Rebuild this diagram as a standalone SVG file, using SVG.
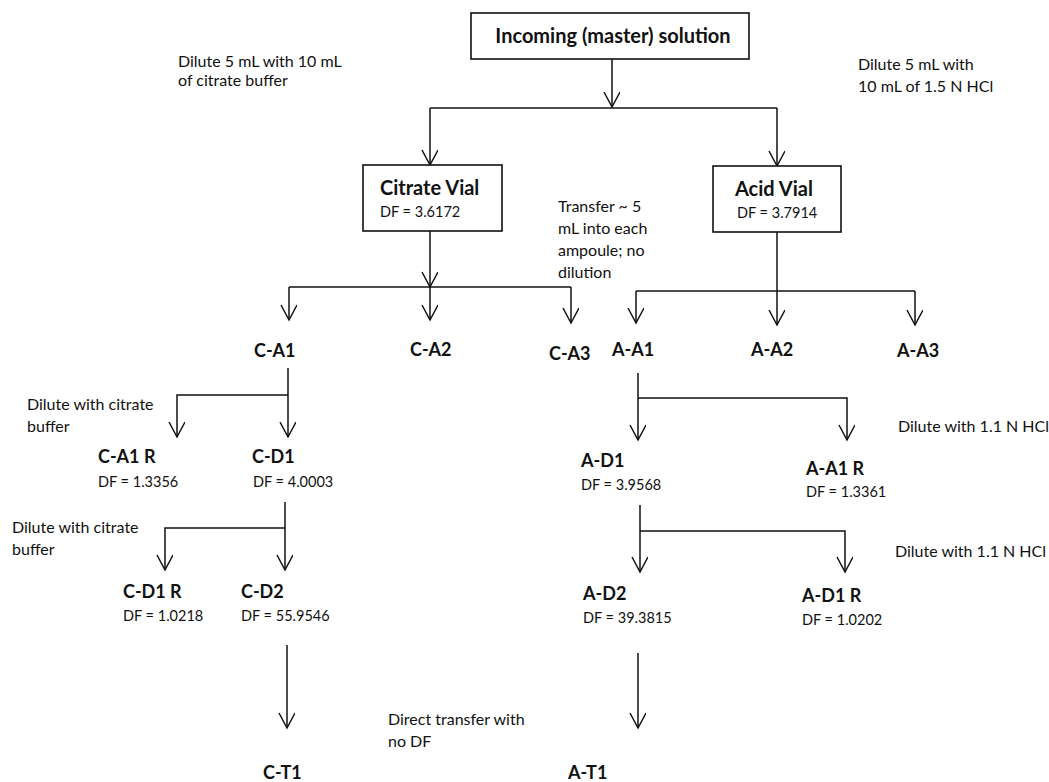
<svg xmlns="http://www.w3.org/2000/svg" width="1049" height="782" viewBox="0 0 1049 782">
<style>
.t{font-family:Lato,"Open Sans","Liberation Sans",sans-serif;fill:#111}
.b{font-weight:bold;font-size:18px}
.h{font-weight:bold;font-size:20px}
.n{font-size:14.5px}
.s{font-size:16px}
.box{fill:#fff;stroke:#111;stroke-width:1.6}
.c{fill:none;stroke:#111;stroke-width:1.5}
</style>
<defs>
<marker id="ah" markerUnits="userSpaceOnUse" markerWidth="20" markerHeight="20" refX="16" refY="8" orient="auto" viewBox="0 0 20 20">
<path d="M1 0 L16 8 L1 16" fill="none" stroke="#111" stroke-width="1.5"/>
</marker>
</defs>
<rect width="1049" height="782" fill="#fff"/>
<g id="connectors">
<path class="c" d="M612 59 V107" marker-end="url(#ah)"/>
<path class="c" d="M430 108 H777"/>
<path class="c" d="M430 108 V165" marker-end="url(#ah)"/>
<path class="c" d="M777 108 V166" marker-end="url(#ah)"/>
<path class="c" d="M430 231 V287" marker-end="url(#ah)"/>
<path class="c" d="M289 287 H571"/>
<path class="c" d="M289 287 V320" marker-end="url(#ah)"/>
<path class="c" d="M430 287 V320" marker-end="url(#ah)"/>
<path class="c" d="M571 287 V323" marker-end="url(#ah)"/>
<path class="c" d="M777 232 V325" marker-end="url(#ah)"/>
<path class="c" d="M636 291 H915"/>
<path class="c" d="M636 291 V323" marker-end="url(#ah)"/>
<path class="c" d="M915 291 V325" marker-end="url(#ah)"/>
<path class="c" d="M288 368 V437" marker-end="url(#ah)"/>
<path class="c" d="M288 395 H177 V437" marker-end="url(#ah)"/>
<path class="c" d="M285 502 V570" marker-end="url(#ah)"/>
<path class="c" d="M285 528 H165 V570" marker-end="url(#ah)"/>
<path class="c" d="M287 645 V728" marker-end="url(#ah)"/>
<path class="c" d="M638 373 V440" marker-end="url(#ah)"/>
<path class="c" d="M638 398 H847 V440" marker-end="url(#ah)"/>
<path class="c" d="M640 505 V572" marker-end="url(#ah)"/>
<path class="c" d="M640 531 H845 V572" marker-end="url(#ah)"/>
<path class="c" d="M638 653 V728" marker-end="url(#ah)"/>
</g>
<g id="master">
<rect class="box" x="471" y="13" width="278" height="46"/>
<text class="t h" x="613" y="43" text-anchor="middle">Incoming (master) solution</text>
</g>
<g id="note-citrate">
<text class="t s" x="178" y="67">Dilute 5 mL with 10 mL</text>
<text class="t s" x="178" y="86">of citrate buffer</text>
</g>
<g id="note-acid">
<text class="t s" x="858" y="70">Dilute 5 mL with</text>
<text class="t s" x="858" y="92">10 mL of 1.5 N HCl</text>
</g>
<g id="citrate-vial">
<rect class="box" x="363" y="165" width="139" height="66"/>
<text class="t h" x="380" y="195">Citrate Vial</text>
<text class="t n" x="380" y="217">DF = 3.6172</text>
</g>
<g id="acid-vial">
<rect class="box" x="713" y="166" width="128" height="66"/>
<text class="t h" x="735" y="196">Acid Vial</text>
<text class="t n" x="737" y="218">DF = 3.7914</text>
</g>
<g id="note-transfer">
<text class="t s" x="558" y="212">Transfer ~ 5</text>
<text class="t s" x="558" y="234">mL into each</text>
<text class="t s" x="558" y="256">ampoule; no</text>
<text class="t s" x="558" y="278">dilution</text>
</g>
<g id="C-A1"><text class="t b" x="254" y="357">C-A1</text></g>
<g id="C-A2"><text class="t b" x="410" y="356">C-A2</text></g>
<g id="C-A3"><text class="t b" x="549" y="360">C-A3</text></g>
<g id="A-A1"><text class="t b" x="612" y="356">A-A1</text></g>
<g id="A-A2"><text class="t b" x="751" y="356">A-A2</text></g>
<g id="A-A3"><text class="t b" x="897" y="357">A-A3</text></g>
<g id="note-c1">
<text class="t s" x="27" y="410">Dilute with citrate</text>
<text class="t s" x="27" y="432">buffer</text>
</g>
<g id="C-A1R">
<text class="t b" x="98" y="463">C-A1 R</text>
<text class="t n" x="98" y="487">DF = 1.3356</text>
</g>
<g id="C-D1">
<text class="t b" x="252" y="463">C-D1</text>
<text class="t n" x="253" y="487">DF = 4.0003</text>
</g>
<g id="note-c2">
<text class="t s" x="12" y="533">Dilute with citrate</text>
<text class="t s" x="12" y="555">buffer</text>
</g>
<g id="C-D1R">
<text class="t b" x="123" y="598">C-D1 R</text>
<text class="t n" x="123" y="621">DF = 1.0218</text>
</g>
<g id="C-D2">
<text class="t b" x="241" y="598">C-D2</text>
<text class="t n" x="241" y="621">DF = 55.9546</text>
</g>
<g id="C-T1"><text class="t b" x="263" y="779">C-T1</text></g>
<g id="note-a1"><text class="t s" x="898" y="432">Dilute with 1.1 N HCl</text></g>
<g id="A-D1">
<text class="t b" x="581" y="467">A-D1</text>
<text class="t n" x="581" y="490">DF = 3.9568</text>
</g>
<g id="A-A1R">
<text class="t b" x="806" y="475">A-A1 R</text>
<text class="t n" x="806" y="497">DF = 1.3361</text>
</g>
<g id="note-a2"><text class="t s" x="895" y="557">Dilute with 1.1 N HCl</text></g>
<g id="A-D2">
<text class="t b" x="583" y="600">A-D2</text>
<text class="t n" x="583" y="623">DF = 39.3815</text>
</g>
<g id="A-D1R">
<text class="t b" x="802" y="602">A-D1 R</text>
<text class="t n" x="802" y="625">DF = 1.0202</text>
</g>
<g id="note-direct">
<text class="t s" x="388" y="725">Direct transfer with</text>
<text class="t s" x="388" y="747">no DF</text>
</g>
<g id="A-T1"><text class="t b" x="568" y="779">A-T1</text></g>
</svg>
